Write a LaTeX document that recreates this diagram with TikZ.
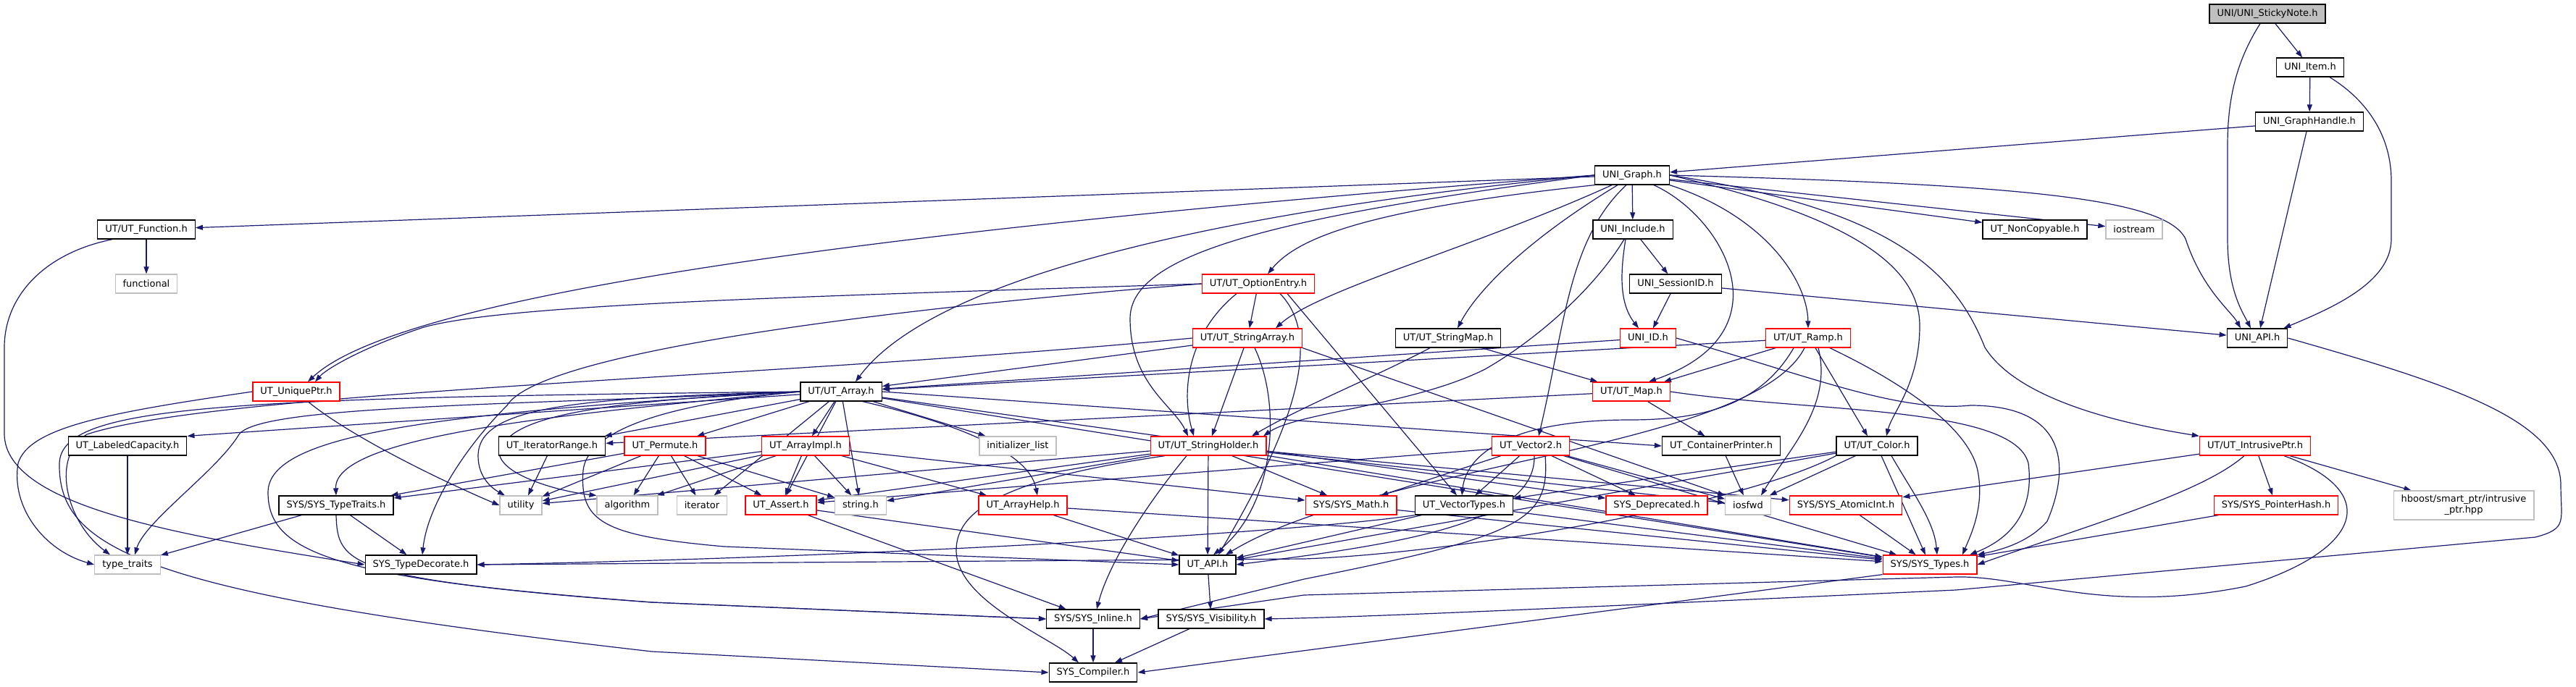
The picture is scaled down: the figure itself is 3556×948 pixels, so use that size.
\documentclass[tikz,border=0pt]{standalone}
\usepackage{fontspec}
\setmainfont{DejaVu Sans}
\usetikzlibrary{arrows.meta}
\definecolor{navy}{HTML}{191970}
\definecolor{lgrey}{HTML}{BFBFBF}
\definecolor{rred}{HTML}{FF0000}
\pgfdeclarelayer{bg}
\pgfsetlayers{bg,main}
\tikzset{
  box/.style={draw=black, line width=1.3pt, rectangle, minimum height=26pt, inner xsep=10.5pt, inner ysep=0pt, font=\fontsize{13}{15.5}\selectfont, fill=white, text=black},
  redbox/.style={box, draw=rred},
  greybox/.style={box, draw=lgrey},
  rootbox/.style={box, fill=lgrey},
  edge/.style={draw=navy, line width=1.2pt, -{Triangle[length=10pt,width=7pt]}},
}
\begin{document}
\begin{tikzpicture}[x=1pt,y=-1pt]
\useasboundingbox (0,0) rectangle (3556,948);
% nodes
\node[rootbox] (root) at (3130,19) {UNI/UNI\_StickyNote.h};
\node[box] (item) at (3189,93) {UNI\_Item.h};
\node[box] (ghandle) at (3188,168) {UNI\_GraphHandle.h};
\node[box] (graph) at (2253,242) {UNI\_Graph.h};
\node[box] (func) at (202,317) {UT/UT\_Function.h};
\node[box] (include) at (2254,317) {UNI\_Include.h};
\node[box] (noncopy) at (2809,317) {UT\_NonCopyable.h};
\node[greybox] (iostream) at (2946,317) {iostream};
\node[greybox] (functional) at (202,392) {functional};
\node[redbox] (optentry) at (1737,392) {UT/UT\_OptionEntry.h};
\node[box] (session) at (2313,392) {UNI\_SessionID.h};
\node[redbox] (strarray) at (1722,467) {UT/UT\_StringArray.h};
\node[box] (strmap) at (1999,467) {UT/UT\_StringMap.h};
\node[redbox] (uniid) at (2275,467) {UNI\_ID.h};
\node[redbox] (ramp) at (2496,467) {UT/UT\_Ramp.h};
\node[box] (uniapi) at (3116,467) {UNI\_API.h};
\node[redbox] (uniqueptr) at (409,541) {UT\_UniquePtr.h};
\node[box] (array) at (1161,541) {UT/UT\_Array.h};
\node[redbox] (map) at (2252,541) {UT/UT\_Map.h};
\node[box] (labcap) at (176,616) {UT\_LabeledCapacity.h};
\node[box] (iterrange) at (762,616) {UT\_IteratorRange.h};
\node[redbox] (permute) at (918,616) {UT\_Permute.h};
\node[redbox] (arrayimpl) at (1112,616) {UT\_ArrayImpl.h};
\node[greybox] (initlist) at (1405,616) {initializer\_list};
\node[redbox] (strholder) at (1668,616) {UT/UT\_StringHolder.h};
\node[redbox] (vector2) at (2113,616) {UT\_Vector2.h};
\node[box] (contprint) at (2376,616) {UT\_ContainerPrinter.h};
\node[box] (color) at (2591,616) {UT/UT\_Color.h};
\node[redbox] (intrusive) at (3113,616) {UT/UT\_IntrusivePtr.h};
\node[box] (typetraits) at (464,698) {SYS/SYS\_TypeTraits.h};
\node[greybox] (utility) at (719,698) {utility};
\node[greybox] (algorithm) at (866,698) {algorithm};
\node[greybox] (iterator) at (969,698) {iterator};
\node[redbox] (uassert) at (1078,698) {UT\_Assert.h};
\node[greybox] (stringh) at (1188,698) {string.h};
\node[redbox] (arrayhelp) at (1412,698) {UT\_ArrayHelp.h};
\node[redbox] (sysmath) at (1865,698) {SYS/SYS\_Math.h};
\node[box] (vectypes) at (2021,698) {UT\_VectorTypes.h};
\node[redbox] (deprecated) at (2287,698) {SYS\_Deprecated.h};
\node[greybox] (iosfwd) at (2413,698) {iosfwd};
\node[redbox] (atomic) at (2548,698) {SYS/SYS\_AtomicInt.h};
\node[redbox] (pointerhash) at (3142,698) {SYS/SYS\_PointerHash.h};
\node[greybox, minimum height=40pt, align=center, font=\fontsize{13}{15}\selectfont] (hboost) at (3401,698) {hboost/smart\_ptr/intrusive\\\_ptr.hpp};
\node[greybox] (stdtt) at (176,780) {type\_traits};
\node[box] (typedec) at (581,780) {SYS\_TypeDecorate.h};
\node[box] (utapi) at (1667,780) {UT\_API.h};
\node[redbox] (systypes) at (2664,780) {SYS/SYS\_Types.h};
\node[box] (inline) at (1509,855) {SYS/SYS\_Inline.h};
\node[box] (visib) at (1672,855) {SYS/SYS\_Visibility.h};
\node[box] (compiler) at (1509,929) {SYS\_Compiler.h};
\begin{pgfonlayer}{bg}
% top
\draw[edge] (root) -- (item);
\draw[edge] ([xshift=-10pt]root.south) .. controls (3090,80) and (3075,130) .. (3075,200) -- (3075,330) .. controls (3075,400) and (3095,430) .. ([xshift=-9pt]uniapi.north);
\draw[edge] (item) -- (ghandle);
\draw[edge] ([xshift=27pt]item.south) .. controls (3270,140) and (3301,190) .. (3301,250) -- (3301,330) .. controls (3301,390) and (3220,425) .. ([xshift=-6pt]uniapi.north east);
\draw[edge] (ghandle) -- (graph);
\draw[edge] ([xshift=-4pt]ghandle.south) -- ([xshift=4pt]uniapi.north);
\draw[edge] (uniapi.east) .. controls (3380,530) and (3535,580) .. (3535,670) .. controls (3535,720) and (3545,730) .. (3500,742) -- (2700,815) .. controls (2200,838) and (1900,852) .. (visib.east);
% graph
\draw[edge] (graph) -- (func);
\draw[edge] (graph.west) .. controls (1300,310) and (560,400) .. ([xshift=16pt]uniqueptr.north);
\draw[edge] (graph.west) .. controls (1700,290) and (1290,380) .. ([xshift=20pt]array.north);
\draw[edge] (graph.south west) .. controls (1880,290) and (1790,330) .. ([xshift=13pt]optentry.north);
\draw[edge] ([xshift=-28pt]graph.south) .. controls (2040,340) and (1820,400) .. ([xshift=39pt]strarray.north);
\draw[edge] (graph.west) .. controls (1760,300) and (1560,350) .. (1560,440) .. controls (1560,530) and (1620,560) .. ([xshift=-28pt]strholder.north);
\draw[edge] ([xshift=-20pt]graph.south) .. controls (2110,330) and (2040,400) .. ([xshift=13pt]strmap.north);
\draw[edge] (graph) -- (include);
\draw[edge] ([xshift=30pt]graph.south) .. controls (2380,300) and (2470,460) .. ([xshift=24pt]map.north);
\draw[edge] ([xshift=-8pt]graph.south) .. controls (2165,330) and (2160,450) .. ([xshift=11pt]vector2.north);
\draw[edge] (graph.south east) .. controls (2440,300) and (2495,390) .. (ramp.north);
\draw[edge] (graph.east) .. controls (2560,300) and (2650,370) .. (2650,450) .. controls (2650,530) and (2612,570) .. ([xshift=13pt]color.north);
\draw[edge] (graph.east) .. controls (2620,290) and (2700,380) .. (2740,480) .. controls (2790,560) and (2960,590) .. (intrusive.north west);
\draw[edge] (graph) -- (noncopy);
\draw[edge] (graph) -- (iostream);
\draw[edge] (graph.east) .. controls (2800,255) and (2990,275) .. (3017,330) .. controls (3040,400) and (3080,430) .. ([xshift=-23pt]uniapi.north);
% function
\draw[edge] (func) -- (functional);
\draw[edge] ([xshift=-47pt]func.south) .. controls (60,350) and (6,410) .. (6,480) -- (6,600) .. controls (8,700) and (250,740) .. (typedec.west);
% include
\draw[edge] (include) -- (session);
\draw[edge] ([xshift=-10pt]include.south) .. controls (2236,380) and (2236,420) .. ([xshift=-13pt]uniid.north);
\draw[edge] ([xshift=-12pt]include.south) .. controls (2200,400) and (2120,470) .. (2050,510) .. controls (1950,560) and (1790,570) .. ([xshift=76pt]strholder.north);
\draw[edge] (session) -- (uniid);
\draw[edge] (session) -- (uniapi);
\draw[edge] (uniid) -- (array);
\draw[edge] (uniid.east) .. controls (2500,520) and (2620,570) .. (2720,560) .. controls (2850,560) and (2860,640) .. (2826,720) .. controls (2800,750) and (2760,760) .. (systypes.north east);
% option entry
\draw[edge] (optentry.west) .. controls (1100,410) and (700,420) .. (585,452) .. controls (500,480) and (450,510) .. ([xshift=26pt]uniqueptr.north);
\draw[edge] (optentry) -- (strarray);
\draw[edge] ([xshift=-30pt]optentry.south) .. controls (1640,460) and (1630,540) .. ([xshift=-20pt]strholder.north);
\draw[edge] ([xshift=30pt]optentry.south) .. controls (1830,470) and (1780,600) .. ([xshift=15pt]utapi.north);
\draw[edge] ([xshift=40pt]optentry.south) -- ([xshift=-10pt]vectypes.north);
\draw[edge] (optentry.west) .. controls (1300,420) and (750,480) .. (700,560) .. controls (640,620) and (590,700) .. ([xshift=2pt]typedec.north);
% string array
\draw[edge] (strarray) -- (array);
\draw[edge] (strarray) -- (strholder);
\draw[edge] ([xshift=10pt]strarray.south) .. controls (1770,560) and (1760,700) .. ([xshift=8pt]utapi.north);
\draw[edge] (strarray.south east) -- (iosfwd.north west);
\draw[edge] (strarray.west) .. controls (1100,520) and (300,540) .. (120,600) .. controls (70,630) and (90,720) .. ([xshift=-24pt]stdtt.north);
% string map
\draw[edge] (strmap) -- (map);
\draw[edge] ([xshift=-25pt]strmap.south) .. controls (1900,520) and (1800,560) .. ([xshift=60pt]strholder.north);
% ramp
\draw[edge] (ramp) -- (array);
\draw[edge] (ramp) -- (map);
\draw[edge] ([xshift=10pt]ramp.south) -- ([xshift=-13pt]color.north);
\draw[edge] ([xshift=-20pt]ramp.south) .. controls (2430,560) and (2350,580) .. (2250,580) .. controls (2100,580) and (2025,620) .. ([xshift=-3pt]vectypes.north);
\draw[edge] ([xshift=14pt]ramp.south) .. controls (2530,560) and (2470,620) .. ([xshift=18pt]iosfwd.north);
\draw[edge] ([xshift=-5pt]ramp.south) .. controls (2420,620) and (1900,640) .. ([xshift=25pt]utapi.north);
\draw[edge] ([xshift=30pt]ramp.south) .. controls (2650,540) and (2720,600) .. (2730,650) .. controls (2740,700) and (2720,740) .. ([xshift=45pt]systypes.north);
% map
\draw[edge] (map) -- (iterrange);
\draw[edge] (map) -- (contprint);
\draw[edge] (map.east) .. controls (2500,570) and (2780,560) .. (2800,640) .. controls (2810,720) and (2760,750) .. ([xshift=55pt]systypes.north);
% vector2
\draw[edge] (vector2) -- (sysmath);
\draw[edge] (vector2) -- (vectypes);
\draw[edge] (vector2) -- (deprecated);
\draw[edge] (vector2) -- (iosfwd);
\draw[edge] (vector2) -- (systypes);
\draw[edge] (vector2) -- (uassert);
\draw[edge] ([xshift=5pt]vector2.south) .. controls (2120,720) and (1950,750) .. (utapi.east);
\draw[edge] ([xshift=20pt]vector2.south) .. controls (2140,720) and (2100,740) .. (1800,800) -- (inline.east);
% container printer, color
\draw[edge] (contprint) -- (iosfwd);
\draw[edge] (color) -- (vectypes);
\draw[edge] (color) -- (utapi);
\draw[edge] (color) -- (iosfwd);
\draw[edge] (color) -- (systypes);
\draw[edge] ([xshift=20pt]color.south) .. controls (2640,680) and (2670,720) .. ([xshift=10pt]systypes.north);
\draw[edge] (color.south west) .. controls (2400,700) and (2000,765) .. (1800,772) -- (typedec.east);
% intrusive
\draw[edge] (intrusive) -- (atomic);
\draw[edge] (intrusive) -- (pointerhash);
\draw[edge] (intrusive) -- (hboost);
\draw[edge] ([xshift=-15pt]intrusive.south) .. controls (3040,680) and (2900,720) .. (systypes.east);
\draw[edge] ([xshift=40pt]intrusive.south) .. controls (3290,680) and (3260,760) .. (3100,810) .. controls (2900,850) and (2800,795) .. (2700,797) -- (1800,822) -- (inline.east);
\draw[edge] (pointerhash) -- (systypes);
\draw[edge] (atomic) -- (systypes);
% unique ptr
\draw[edge] (uniqueptr.west) .. controls (150,570) and (40,590) .. (25,640) .. controls (15,700) and (60,760) .. (stdtt.west);
\draw[edge] ([xshift=16pt]uniqueptr.south) .. controls (480,600) and (600,660) .. (utility.west);
\draw[edge] (labcap) -- (stdtt);
\draw[edge] (iterrange) -- ([xshift=10pt]utility.north);
% array
\draw[edge] (array) -- (labcap.north east);
\draw[edge] (array) -- (iterrange);
\draw[edge] (array) -- (permute);
\draw[edge] (array) -- (arrayimpl);
\draw[edge] (array) -- (initlist);
\draw[edge] (array.west) .. controls (800,570) and (460,600) .. (typetraits.north);
\draw[edge] (array.west) .. controls (700,560) and (360,560) .. (330,600) .. controls (300,650) and (200,720) .. ([xshift=10pt]stdtt.north);
\draw[edge] (array.west) .. controls (600,570) and (370,600) .. (370,680) .. controls (370,760) and (450,800) .. (900,832) -- (inline.west);
\draw[edge] (array.west) .. controls (300,550) and (85,560) .. (82,640) .. controls (80,760) and (200,820) .. (900,900) -- (compiler.west);
\draw[edge] (array.west) .. controls (800,550) and (660,560) .. (660,630) .. controls (660,660) and (680,675) .. ([xshift=-22pt]utility.north);
\draw[edge] (array.west) .. controls (800,555) and (690,580) .. (690,630) .. controls (700,660) and (780,680) .. (algorithm.north west);
\draw[edge] (array.west) .. controls (900,560) and (810,600) .. (805,650) .. controls (800,720) and (830,740) .. (1000,755) -- (utapi.west);
\draw[edge] (array) -- (iterator);
\draw[edge] (array) -- (uassert);
\draw[edge] (array) -- (stringh);
\draw[edge] ([xshift=30pt]array.south) .. controls (1300,580) and (1420,620) .. ([xshift=20pt]arrayhelp.north);
\draw[edge] (array.east) -- (contprint.west);
\draw[edge] (array) -- (deprecated);
\draw[edge] (array) -- (systypes);
% permute
\draw[edge] (permute) -- (typetraits);
\draw[edge] (permute) -- (utility);
\draw[edge] (permute) -- (algorithm);
\draw[edge] (permute) -- (iterator);
\draw[edge] (permute) -- (uassert);
\draw[edge] (permute) -- (stringh);
% array impl
\draw[edge] (arrayimpl) -- (typetraits);
\draw[edge] (arrayimpl) -- (utility);
\draw[edge] (arrayimpl) -- (algorithm);
\draw[edge] (arrayimpl) -- (uassert);
\draw[edge] (arrayimpl) -- (stringh);
\draw[edge] (arrayimpl) -- (sysmath);
\draw[edge] (arrayimpl) -- (arrayhelp);
% string holder
\draw[edge] (strholder) -- (utility);
\draw[edge] (strholder) -- (uassert);
\draw[edge] (strholder) -- (stringh);
\draw[edge] (strholder) -- (sysmath);
\draw[edge] (strholder) -- (systypes);
\draw[edge] (strholder) -- (atomic);
\draw[edge] (strholder) -- (iosfwd);
\draw[edge] (strholder) -- (utapi);
\draw[edge] ([xshift=-30pt]strholder.south) .. controls (1580,700) and (1530,780) .. ([xshift=5pt]inline.north);
\draw[edge] ([xshift=-60pt]strholder.south) .. controls (1400,660) and (1320,700) .. (1320,760) .. controls (1320,830) and (1450,880) .. ([xshift=-20pt]compiler.north);
% lower
\draw[edge] (typetraits) -- (stdtt);
\draw[edge] (typetraits) -- (typedec);
\draw[edge] (typetraits.south) .. controls (466,780) and (480,800) .. (900,832) -- (inline.west);
\draw[edge] (uassert) -- (utapi);
\draw[edge] (uassert) -- (inline);
\draw[edge] (arrayhelp) -- (utapi);
\draw[edge] (arrayhelp) -- (systypes);
\draw[edge] (sysmath) -- (systypes);
\draw[edge] (vectypes) -- (utapi);
\draw[edge] (vectypes) -- (systypes);
\draw[edge] (vectypes.south west) .. controls (1800,735) and (1200,770) .. (typedec.east);
\draw[edge] (utapi) -- (visib);
\draw[edge] (inline) -- (compiler);
\draw[edge] (visib) -- (compiler);
\draw[edge] (systypes.south west) -- (compiler.east);
\end{pgfonlayer}
\end{tikzpicture}
\end{document}
